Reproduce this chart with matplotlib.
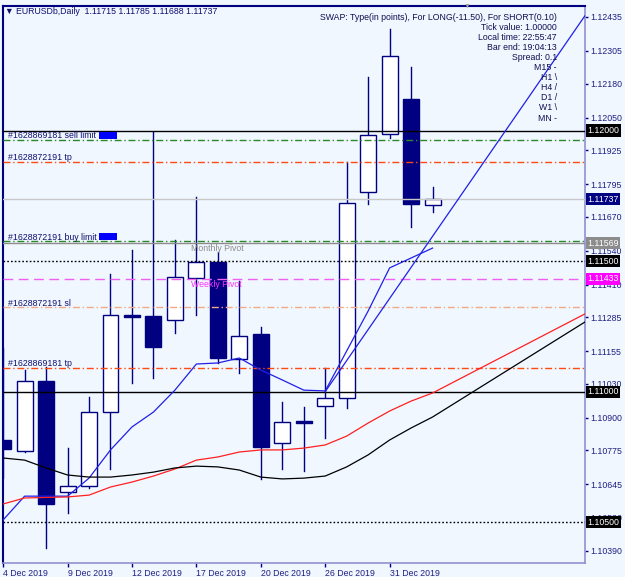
import matplotlib
matplotlib.use('Agg')
import matplotlib.pyplot as plt
from matplotlib.patches import Rectangle
from matplotlib.transforms import blended_transform_factory

plt.rcParams['font.family'] = ['Liberation Sans', 'DejaVu Sans']

# EURUSDb daily bars, 4 Dec 2019 .. 3 Jan 2020
opens = [1.10815, 1.10773, 1.11041, 1.10616, 1.10639, 1.10922, 1.11294, 1.11290, 1.11275, 1.11435, 1.11497,
         1.11125, 1.11221, 1.10803, 1.10888, 1.10945, 1.10976, 1.11765, 1.11987, 1.12121, 1.11715]
highs = [1.11167, 1.11083, 1.11095, 1.10784, 1.10980, 1.11451, 1.11543, 1.11995, 1.11581, 1.11746, 1.11535,
         1.11424, 1.11248, 1.10960, 1.10941, 1.11091, 1.11880, 1.12205, 1.12389, 1.12244, 1.11785]
lows = [1.10669, 1.10769, 1.10401, 1.10535, 1.10631, 1.10704, 1.11033, 1.11052, 1.11225, 1.11294, 1.11110,
        1.11072, 1.10666, 1.10704, 1.10696, 1.10823, 1.10938, 1.11719, 1.11972, 1.11631, 1.11688]
closes = [1.10780, 1.11041, 1.10570, 1.10639, 1.10922, 1.11294, 1.11286, 1.11171, 1.11439, 1.11497, 1.11129,
          1.11213, 1.10788, 1.10884, 1.10880, 1.10976, 1.11723, 1.11983, 1.12286, 1.11719, 1.11737]

date_pos = [0, 3, 6, 9, 12, 15, 18]
date_labels = ['4 Dec 2019', '9 Dec 2019', '12 Dec 2019', '17 Dec 2019', '20 Dec 2019', '26 Dec 2019', '31 Dec 2019']

# moving averages (blue = fast, red / black = slower, last point = projection at right edge)
ma_blue = [1.10509, 1.10600, 1.10600, 1.10600, 1.10669, 1.10777, 1.10865, 1.10922, 1.11006, 1.11106, 1.11110,
           1.11129, 1.11083, 1.11045, 1.11006, 1.11003, 1.11156, 1.11309, 1.11474, 1.11512, 1.11550]
ma_red = [1.10570, 1.10593, 1.10595, 1.10597, 1.10604, 1.10635, 1.10654, 1.10677, 1.10704, 1.10738, 1.10750,
          1.10769, 1.10777, 1.10777, 1.10784, 1.10796, 1.10830, 1.10880, 1.10926, 1.10964, 1.10995, 1.11298]
ma_black = [1.10746, 1.10738, 1.10708, 1.10681, 1.10673, 1.10673, 1.10681, 1.10692, 1.10708, 1.10715, 1.10712,
            1.10700, 1.10673, 1.10666, 1.10669, 1.10677, 1.10712, 1.10758, 1.10815, 1.10861, 1.10903, 1.11267]
proj_x = 27.1

trend_x = [15, 27.1]
trend_y = [1.11000, 1.12440]

price_ticks = [1.12435, 1.12305, 1.12180, 1.12050, 1.11925, 1.11795, 1.11670, 1.11540, 1.11410, 1.11285,
               1.11155, 1.11030, 1.10900, 1.10775, 1.10645, 1.10520, 1.10390]

# order lines
order_labels = ['#1628869181 sell limit', '#1628872191 tp', '#1628872191 buy limit', '#1628872191 sl', '#1628869181 tp']
order_prices = [1.11964, 1.11880, 1.11577, 1.11324, 1.11091]
order_colors = ['#2a8a2a', '#ff4a10', '#2a8a2a', '#f4a888', '#ff4a10']

# round levels / pivots with price boxes
level_prices = [1.12000, 1.11737, 1.11569, 1.11500, 1.11433, 1.11000, 1.10500]
level_colors = ['black', '#c8c8c8', '#8c8c8c', 'black', '#f060f0', 'black', 'black']
level_styles = ['-', '-', '-', (0, (1.2, 1.5)), (0, (7, 4)), '-', (0, (1.2, 1.5))]
box_colors = ['black', '#000080', '#8c8c8c', 'black', '#ff00ff', 'black', 'black']

info_lines = ['SWAP: Type(in points), For LONG(-11.50), For SHORT(0.10)', 'Tick value: 1.00000',
              'Local time: 22:55:47', 'Bar end: 19:04:13', 'Spread: 0.1', 'M15 -', 'H1 \\', 'H4 /', 'D1 /',
              'W1 \\', 'MN -']

navy = '#000080'
bg = '#f0f7ff'
fs = 6.3

fig = plt.figure(figsize=(6.25, 5.77), dpi=100, facecolor=bg)
ax = fig.add_axes([2.5 / 625, 14 / 577, 582.5 / 625, 557 / 577], facecolor=bg)
ax.set_xlim(-0.03, 27.1)
ax.set_ylim(1.10344, 1.12477)

# candles
w = 0.74
for i in range(len(opens)):
    o, h, l, c = opens[i], highs[i], lows[i], closes[i]
    ax.plot([i, i], [l, h], color=navy, lw=1, zorder=2)
    fc = 'white' if c >= o else navy
    ax.add_patch(Rectangle((i - w / 2, min(o, c)), w, max(abs(c - o), 0.00006),
                           facecolor=fc, edgecolor=navy, lw=1, zorder=3))

# horizontal levels
tr = blended_transform_factory(ax.transAxes, ax.transData)
for p, col, ls, bc in zip(level_prices, level_colors, level_styles, box_colors):
    ax.axhline(p, color=col, ls=ls, lw=1, zorder=4)
    ax.text(1.004, p, '%.5f' % p, transform=tr, ha='left', va='center', fontsize=fs, color='white',
            bbox=dict(boxstyle='square,pad=0.18', fc=bc, ec='none'), zorder=6, clip_on=False)

for lab, p, col in zip(order_labels, order_prices, order_colors):
    ax.axhline(p, color=col, ls=(0, (5, 2, 1, 2)), lw=1, zorder=4)
    ax.text(0.01, p - 0.00002, lab, transform=tr, ha='left', va='bottom', fontsize=fs, color='#101070', zorder=5)
    if 'limit' in lab:
        ax.add_patch(Rectangle((0.166, p + 0.00003), 0.03, 0.00026, transform=tr,
                               facecolor='#0000ff', edgecolor='none', zorder=5))

ax.text(8.75, 1.11569 - 0.00004, 'Monthly Pivot', ha='left', va='top', fontsize=fs, color='#8c8c8c', zorder=5)
ax.text(8.75, 1.11433 - 0.00004, 'Weekly Pivot', ha='left', va='top', fontsize=fs, color='#ff30ff', zorder=5)

# moving averages
xs = list(range(len(ma_blue)))
ax.plot(xs, ma_blue, color='#2020e8', lw=0.9, zorder=4)
ax.plot(xs + [proj_x], ma_red, color='#ff2020', lw=0.9, zorder=4)
ax.plot(xs + [proj_x], ma_black, color='black', lw=0.9, zorder=4)
ax.plot(trend_x, trend_y, color='#2020e8', lw=0.9, zorder=4)

# axes styling
for s in ['left', 'top']:
    ax.spines[s].set_color(navy)
    ax.spines[s].set_linewidth(1.5)
for s in ['right', 'bottom']:
    ax.spines[s].set_color('#9090d0')
    ax.spines[s].set_linewidth(1.2)

ax.yaxis.tick_right()
ax.set_yticks(price_ticks)
ax.set_yticklabels(['%.5f' % p for p in price_ticks])
ax.tick_params(axis='y', length=2, width=1, color=navy, labelcolor='#202080', labelsize=fs, pad=2)
ax.set_xticks(date_pos)
ax.set_xticklabels(date_labels, ha='left')
ax.tick_params(axis='x', length=3, width=1, color=navy, labelcolor='#202080', labelsize=fs, pad=1)

# header texts
fig.text(5 / 625, 1 - 11 / 577, '\u25bc EURUSDb,Daily  1.11715 1.11785 1.11688 1.11737', fontsize=fs,
         color='#101070', ha='left', va='center')
fig.text(467 / 625, 1 - 6 / 577, '\u25bc', fontsize=5, color='#a0a0a0', ha='center', va='center')
for k, line in enumerate(info_lines):
    fig.text(557 / 625, 1 - (18 + k * 10) / 577, line, fontsize=fs, color='#101050', ha='right', va='center')

fig.savefig('out.png', dpi=100, facecolor=bg)
